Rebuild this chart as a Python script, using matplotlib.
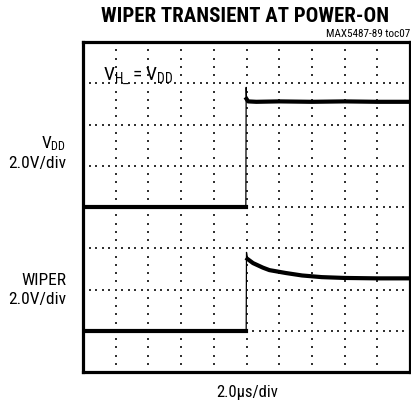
import matplotlib
matplotlib.use("Agg")
import matplotlib.pyplot as plt
import numpy as np

plt.rcParams['font.family'] = ['Roboto Condensed', 'Archivo Narrow', 'DejaVu Sans']

# scope traces, in screen divisions (10 x 8 div)
vdd_t = [0.0, 4.98, 4.99, 5.0, 5.05, 5.3, 6.0, 7.0, 8.0, 9.0, 10.0]
vdd_v = [4.0, 4.0, 6.9, 6.62, 6.56, 6.55, 6.56, 6.55, 6.56, 6.55, 6.55]

wiper_t = [0.0, 4.99, 5.0, 5.03, 5.2, 5.5, 5.7, 6.2, 6.7, 7.3, 8.0, 9.0, 10.0]
wiper_v = [1.0, 1.0, 2.9, 2.74, 2.64, 2.53, 2.47, 2.40, 2.34, 2.30, 2.28, 2.27, 2.27]

x_divs = 10
y_divs = 8
minor = 5

fig = plt.figure(figsize=(4.11, 4.06), dpi=100)
ax = fig.add_axes([83 / 411, 1 - 373 / 406, 327 / 411, 330 / 406])
ax.set_xlim(0, x_divs)
ax.set_ylim(0, y_divs)
ax.set_xticks([])
ax.set_yticks([])
for s in ax.spines.values():
    s.set_linewidth(2.3)

# dotted graticule
xs_major = np.arange(1, x_divs)
ys_major = np.arange(1, y_divs)
xs_minor = np.arange(0, x_divs * minor + 1) / minor
ys_minor = np.arange(0, y_divs * minor + 1) / minor
gx, gy = np.meshgrid(xs_major, ys_minor)
ax.scatter(gx.ravel(), gy.ravel(), s=1.5, marker='s', color='#333333', linewidths=0, zorder=1)
gx, gy = np.meshgrid(xs_minor, ys_major)
ax.scatter(gx.ravel(), gy.ravel(), s=1.5, marker='s', color='#333333', linewidths=0, zorder=1)

# traces: thin for the edges, thick (noisy band) for the flat parts
ax.plot(vdd_t, vdd_v, color='black', lw=0.9, zorder=3)
ax.plot(vdd_t[:2], vdd_v[:2], color='black', lw=3.0, zorder=3)
ax.plot(vdd_t[3:], vdd_v[3:], color='black', lw=3.0, zorder=3)
ax.plot(wiper_t, wiper_v, color='black', lw=0.9, zorder=3)
ax.plot(wiper_t[:2], wiper_v[:2], color='black', lw=3.0, zorder=3)
ax.plot(wiper_t[3:], wiper_v[3:], color='black', lw=3.0, zorder=3)

ax.text(0.6, 7.22, r'$\mathregular{V_{H\_} = V_{DD}}$', fontsize=14, va='center', ha='left')

fig.text(245 / 411, 1 - 17 / 406, 'WIPER TRANSIENT AT POWER-ON', fontsize=15,
         fontweight='heavy', ha='center', va='center')
fig.text(410 / 411, 1 - 34 / 406, 'MAX5487-89 toc07', fontsize=8, ha='right', va='center')

fig.text(66 / 411, 1 - 144 / 406, r'$\mathregular{V_{DD}}$', fontsize=12.5, ha='right', va='center')
fig.text(66 / 411, 1 - 164 / 406, '2.0V/div', fontsize=12.5, ha='right', va='center')
fig.text(66 / 411, 1 - 281 / 406, 'WIPER', fontsize=12.5, ha='right', va='center')
fig.text(66 / 411, 1 - 300 / 406, '2.0V/div', fontsize=12.5, ha='right', va='center')
fig.text(247 / 411, 1 - 393 / 406, '2.0\u00b5s/div', fontsize=12, ha='center', va='center')

fig.savefig('out.png', dpi=100)
